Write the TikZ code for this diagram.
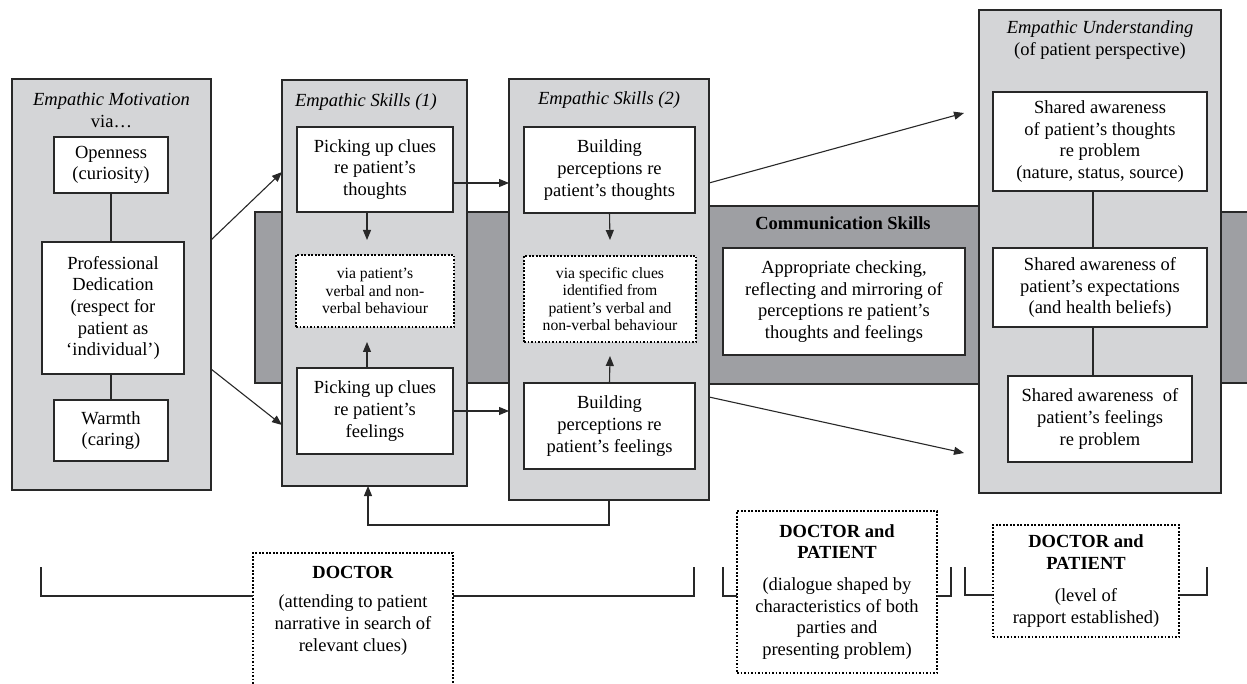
\documentclass[tikz,border=0pt]{standalone}
\usepackage{fontspec}
\setmainfont{Liberation Serif}
\usetikzlibrary{arrows.meta,calc}
\definecolor{panelgray}{RGB}{212,213,215}
\definecolor{bandgray}{RGB}{158,159,163}
\definecolor{edge}{RGB}{40,40,40}
\newcommand{\mainsz}{\fontsize{18.5}{21.7}\selectfont}
\newcommand{\smlsz}{\fontsize{15.7}{17.3}\selectfont}
\begin{document}
\begin{tikzpicture}[x=1pt,y=-1pt,
  every node/.style={inner sep=0pt, outer sep=0pt},
  panel/.style={draw=edge, fill=panelgray, line width=1.3pt},
  bandbox/.style={draw=edge, fill=bandgray, line width=1.3pt},
  wbox/.style={draw=edge, fill=white, line width=1.1pt, align=center, font=\mainsz},
  dotbox/.style={draw=black, fill=white, line width=1.9pt, dash pattern=on 1.9pt off 1.6pt, align=center},
  conn/.style={draw=edge, line width=1.1pt},
  arr/.style={conn, -{Triangle[length=10pt,width=8pt]}}]
\useasboundingbox (0,0) rectangle (1247,684);
\clip (0,0) rectangle (1247,684);
% communication band
\node[bandbox, minimum width=995pt, minimum height=171pt] (band) at (752.5,297.5) {};
\node[bandbox, minimum width=290pt, minimum height=178pt] (comm) at (845,295) {};
\node[font=\mainsz\bfseries] (commT) at (843,223) {Communication Skills};
\node[wbox, minimum width=242pt, minimum height=107pt] (cbox) at (844,301.5) {Appropriate checking,\\reflecting and mirroring of\\perceptions re patient’s\\thoughts and feelings};
% empathic motivation
\node[panel, minimum width=199pt, minimum height=411pt] (mot) at (111.5,284.5) {};
\node[font=\mainsz, align=center] (motT) at (111.5,110.5) {\textit{Empathic Motivation}\\via…};
\node[wbox, minimum width=114pt, minimum height=56pt] (open) at (111,165) {Openness\\(curiosity)};
\node[wbox, minimum width=142pt, minimum height=132pt] (prof) at (113,308) {Professional\\Dedication\\(respect for\\patient as\\‘individual’)};
\node[wbox, minimum width=114pt, minimum height=61pt] (warm) at (111,430.5) {Warmth\\(caring)};
% empathic skills 1
\node[panel, minimum width=185pt, minimum height=406pt] (sk1) at (374.5,283) {};
\node[font=\mainsz\itshape, anchor=west] (sk1T) at (295,102) {Empathic Skills (1)};
\node[wbox, minimum width=156pt, minimum height=85pt] (p1t) at (375,169.5) {Picking up clues\\re patient’s\\thoughts};
\node[dotbox, font=\smlsz, minimum width=158pt, minimum height=72pt] (via1) at (375,291) {via patient’s\\verbal and non-\\verbal behaviour};
\node[wbox, minimum width=156pt, minimum height=86pt] (p1f) at (375,411) {Picking up clues\\re patient’s\\feelings};
% empathic skills 2
\node[panel, minimum width=200pt, minimum height=421pt] (sk2) at (609,289.5) {};
\node[font=\mainsz\itshape] (sk2T) at (609,100) {Empathic Skills (2)};
\node[wbox, minimum width=171pt, minimum height=86pt] (p2t) at (609.5,170) {Building\\perceptions re\\patient’s thoughts};
\node[dotbox, font=\smlsz, minimum width=172pt, minimum height=86pt] (via2) at (610,299) {via specific clues\\identified from\\patient’s verbal and\\non-verbal behaviour};
\node[wbox, minimum width=171pt, minimum height=86pt] (p2f) at (609.5,426) {Building\\perceptions re\\patient’s feelings};
% empathic understanding
\node[panel, minimum width=242pt, minimum height=483pt] (und) at (1100,251.5) {};
\node[font=\mainsz, align=center] (undT) at (1100,40) {\textit{Empathic Understanding}\\(of patient perspective)};
\node[wbox, minimum width=214pt, minimum height=99pt] (ua) at (1100,141.5) {Shared awareness\\of patient’s thoughts\\re problem\\(nature, status, source)};
\node[wbox, minimum width=214pt, minimum height=79pt] (ub) at (1100,287.5) {Shared awareness of\\patient’s expectations\\(and health beliefs)};
\node[wbox, minimum width=184pt, minimum height=86pt] (uc) at (1100,419) {Shared awareness\ \ of\\patient’s feelings\\re problem};
% bottom labels
\node[dotbox, minimum width=200pt, minimum height=150pt, anchor=north] (doc) at (353,553) {};
\node[font=\mainsz, align=center, anchor=north] (docT) at (353,566) {\textbf{DOCTOR}\\[8pt](attending to patient\\narrative in search of\\relevant clues)};
\node[dotbox, font=\mainsz, minimum width=200pt, minimum height=162pt] (dp1) at (837,592) {\textbf{DOCTOR and}\\\textbf{PATIENT}\\[10pt](dialogue shaped by\\characteristics of both\\parties and\\presenting problem)};
\node[dotbox, font=\mainsz, minimum width=186pt, minimum height=112pt] (dp2) at (1086,581) {\textbf{DOCTOR and}\\\textbf{PATIENT}\\[10pt](level of\\rapport established)};
% connectors
\draw[conn] (open.south) -- (open.south |- prof.north);
\draw[conn] (warm.north |- prof.south) -- (warm.north);
\draw[arr] ($(mot.north east)+(0,161)$) -- ($(sk1.north west)+(0,92)$);
\draw[arr] ($(mot.north east)+(0,290)$) -- ($(sk1.north west)+(0,345)$);
\draw[arr] ($(p1t.south)+(-8,0)$) -- ($(via1.north)+(-8,-15)$);
\draw[arr] ($(p1f.north)+(-8,0)$) -- ($(via1.south)+(-8,15)$);
\draw[arr] ($(p1t.east)+(0,13.5)$) -- ($(sk2.west |- p1t.east)+(0,13.5)$);
\draw[arr] (p1f.east) -- (p1f.east -| sk2.west);
\draw[arr] (p2t.south) -- ($(via2.north)+(0,-16)$);
\draw[arr] (p2f.north) -- ($(via2.south)+(0,14)$);
\draw[arr] ($(sk2.north east)+(0,104)$) -- ($(und.north west)+(-15,103)$);
\draw[arr] ($(sk2.north east)+(0,318)$) -- ($(und.north west)+(-15,443)$);
\draw[conn] ($(ua.south)+(-7,0)$) -- ($(ub.north)+(-7,0)$);
\draw[conn] ($(ub.south)+(-7,0)$) -- ($(uc.north)+(-7,0)$);
\draw[arr] (sk2.south) -- ++(0,25) -| ($(sk1.south)+(-6.5,0)$);
% brackets
\coordinate (b1a) at (41,567);
\coordinate (b1b) at (694,567);
\coordinate (b2a) at (723,567);
\coordinate (b2b) at (951,567);
\coordinate (b3a) at (965,567);
\coordinate (b3b) at (1207,567);
\draw[conn] (b1a) |- ($(doc.north west)+(0,43)$);
\draw[conn] ($(doc.north east)+(0,43)$) -| (b1b);
\draw[conn] (b2a) |- ($(dp1.north west)+(0,85)$);
\draw[conn] ($(dp1.north east)+(0,85)$) -| (b2b);
\draw[conn] (b3a) |- ($(dp2.north west)+(0,70)$);
\draw[conn] ($(dp2.north east)+(0,70)$) -| (b3b);
\end{tikzpicture}
\end{document}
